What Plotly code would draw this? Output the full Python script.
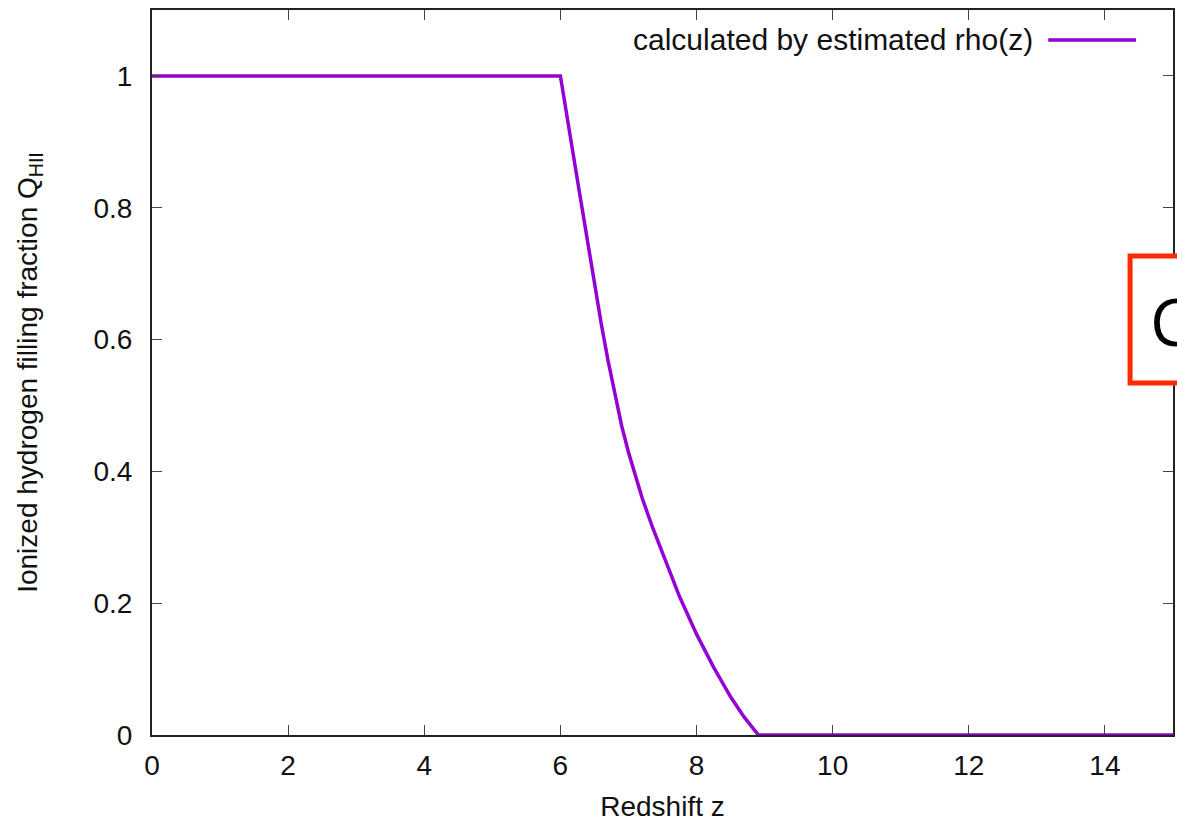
import plotly.graph_objects as go

# Data
redshift_z = [0, 6, 6.25, 6.5, 6.6, 6.7, 6.8, 6.9, 7.0, 7.1, 7.2, 7.35, 7.5, 7.75,
              8.0, 8.25, 8.5, 8.7, 8.91, 15]
q_hii = [1, 1, 0.842, 0.685, 0.624, 0.568, 0.516, 0.469, 0.429, 0.393, 0.360, 0.316,
         0.275, 0.210, 0.153, 0.103, 0.058, 0.027, 0, 0]
series_name = "calculated by estimated rho(z)"
x_ticks = [0, 2, 4, 6, 8, 10, 12, 14]
y_ticks = [0, 0.2, 0.4, 0.6, 0.8, 1]

W, H = 1177, 825
L, R, T, B = 152, 2, 10, 90
pw, ph = W - L - R, H - T - B

def px(x):
    return (x - L) / pw

def py(y):
    return (H - B - y) / ph

FONT = "Liberation Sans, Arial, Helvetica, sans-serif"
PURPLE = "#9400D3"

fig = go.Figure()
fig.add_trace(go.Scatter(x=redshift_z, y=q_hii, mode="lines", name=series_name,
                         line=dict(color=PURPLE, width=3.5), showlegend=False))

axis_common = dict(showline=True, linecolor="#222", linewidth=2, mirror="allticks",
                   ticks="inside", ticklen=10, tickcolor="#444", tickwidth=1,
                   showgrid=False, zeroline=False,
                   tickfont=dict(family=FONT, size=28, color="#111"))

fig.update_xaxes(range=[0, 15], tickvals=x_ticks, ticklabelstandoff=4,
                 title=dict(text="Redshift z", font=dict(family=FONT, size=28, color="#111"), standoff=17),
                 **axis_common)
fig.update_yaxes(range=[0, 1.1], tickvals=y_ticks, ticklabelstandoff=12,
                 title=dict(text="Ionized hydrogen filling fraction Q<sub>HII</sub>",
                            font=dict(family=FONT, size=28, color="#111"), standoff=48),
                 **axis_common)

# gnuplot-style key: text then line sample
fig.add_annotation(x=px(1037), y=py(40), xref="paper", yref="paper", text=series_name,
                   showarrow=False, xanchor="right", yanchor="middle",
                   font=dict(family=FONT, size=30, color="#111"))
fig.add_shape(type="line", xref="paper", yref="paper", x0=px(1050), x1=px(1138),
              y0=py(40), y1=py(40), line=dict(color=PURPLE, width=3.5))

# red overlay box with partially visible text
fig.add_shape(type="rect", xref="paper", yref="paper", x0=px(1132), x1=px(1240),
              y0=py(383), y1=py(256), line=dict(color="#ff2a00", width=5),
              fillcolor="white", layer="above")
fig.add_annotation(x=px(1150), y=py(320), xref="paper", yref="paper", text="C",
                   showarrow=False, xanchor="left", yanchor="middle",
                   font=dict(family="Open Sans, Noto Sans, sans-serif", size=66, color="black"))

fig.update_layout(width=W, height=H, margin=dict(l=L, r=R, t=T, b=B, pad=0),
                  paper_bgcolor="white", plot_bgcolor="white", showlegend=False)

fig.write_html("out.html")
